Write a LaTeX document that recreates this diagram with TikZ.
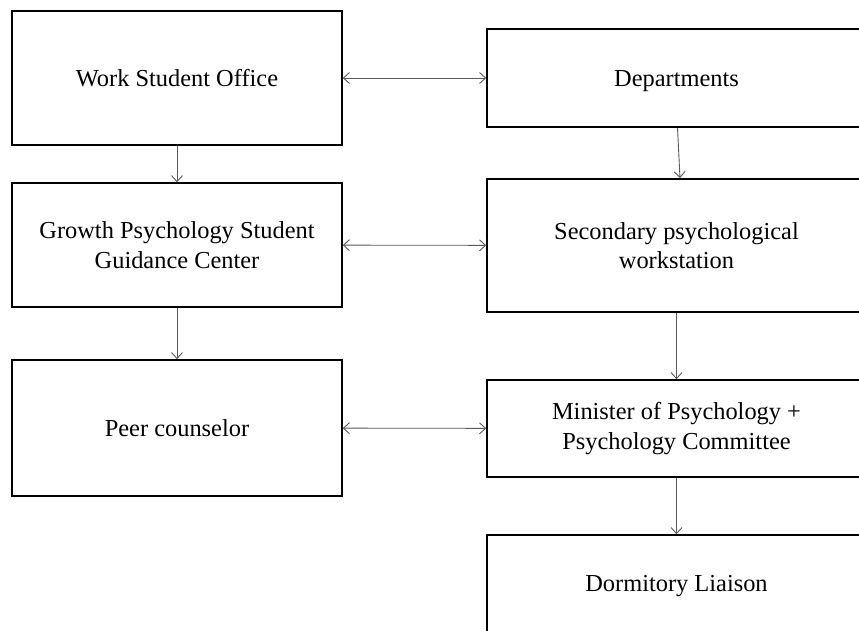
\documentclass[tikz,border=0pt]{standalone}
\usepackage{fontspec}
\setmainfont{Liberation Serif}
\usetikzlibrary{arrows.meta}
\begin{document}
\begin{tikzpicture}[x=1pt,y=-1pt,
  box/.style={draw=black,line width=1.6pt,inner sep=0pt,align=center,
    font=\fontsize{24.4}{29.5}\selectfont},
  one/.style={text height=19pt,text depth=3pt},
  lbox/.style={box,minimum width=330pt},
  rbox/.style={box,minimum width=379pt},
  conn/.style={draw=black!65,line width=0.9pt,-{Straight Barb[length=6pt,width=11pt]}},
  dconn/.style={conn,{Straight Barb[length=6pt,width=11pt]}-{Straight Barb[length=6pt,width=11pt]}}]
\useasboundingbox (0,0) rectangle (859,630);
\clip (0,0) rectangle (859,630);
\fill[white] (0,0) rectangle (859,630);
% left column
\node[lbox,one,minimum height=134pt] (wso) at (177,78) {Work Student Office};
\node[lbox,minimum height=124pt] (gpc) at (177,245) {Growth Psychology Student\\Guidance Center};
\node[lbox,one,minimum height=136pt] (peer) at (177,428) {Peer counselor};
% right column
\node[rbox,one,minimum height=98pt] (dep) at (676.5,78) {Departments};
\node[rbox,minimum height=133pt] (sec) at (676.5,245.5) {Secondary psychological\\workstation};
\node[rbox,minimum height=97pt] (min) at (676.5,428.5) {Minister of Psychology +\\Psychology Committee};
\node[rbox,minimum height=160pt] (dorm) at (676.5,615) {};
\node[font=\fontsize{24.4}{29.5}\selectfont,one,inner sep=0pt] (dormt) at (676.5,583) {Dormitory Liaison};
% connectors
\draw[conn] (wso) -- (gpc);
\draw[conn] (gpc) -- (peer);
\draw[conn] ([xshift=1pt]dep.south) -- ([xshift=3.5pt]sec.north);
\draw[conn] (sec) -- (min);
\draw[conn] (min) -- (dorm);
\draw[dconn] (wso) -- (dep);
\draw[dconn] (gpc) -- (sec);
\draw[dconn] (peer) -- (min);
\end{tikzpicture}
\end{document}
